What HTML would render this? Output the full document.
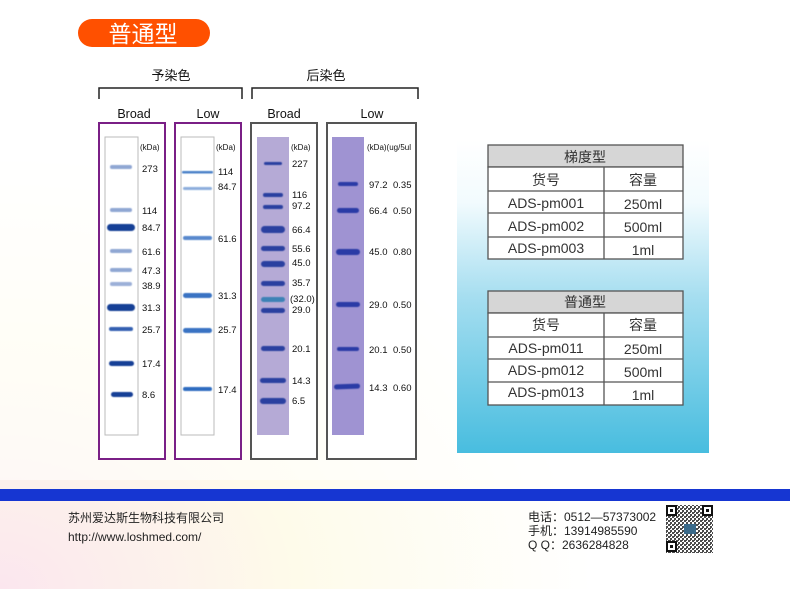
<!DOCTYPE html>
<html><head><meta charset="utf-8"><style>
html,body{margin:0;padding:0;width:790px;height:589px;overflow:hidden;background:#fff}
svg text{font-family:"Liberation Sans","Noto Sans CJK SC",sans-serif}
</style></head><body>
<svg width="790" height="589" viewBox="0 0 790 589" xmlns="http://www.w3.org/2000/svg">
<defs>
<radialGradient id="bgp" cx="0" cy="1" r="0.75">
<stop offset="0" stop-color="#fbe6ee"/><stop offset="0.5" stop-color="#fefbea"/><stop offset="1" stop-color="#ffffff"/>
</radialGradient>
<linearGradient id="blue" x1="0" y1="0" x2="0" y2="1">
<stop offset="0" stop-color="#ffffff"/><stop offset="0.2" stop-color="#f2fbfe"/><stop offset="0.5" stop-color="#a6def0"/><stop offset="1" stop-color="#48bddf"/>
</linearGradient>
<pattern id="qr" width="4" height="4" patternUnits="userSpaceOnUse">
<rect width="2" height="2" fill="#111"/><rect x="2" y="2" width="2" height="2" fill="#111"/><rect x="2" y="0" width="1" height="1" fill="#111"/>
</pattern>
<filter id="bl"><feGaussianBlur stdDeviation="0.6"/></filter>
</defs>
<rect width="790" height="589" fill="url(#bgp)"/>
<rect x="0" y="0" width="790" height="480" fill="#fff" opacity="0.55"/>

<rect x="78" y="19" width="132" height="28" rx="14" fill="#ff5000"/>
<text x="143" y="42" font-size="23" fill="#fff" text-anchor="middle">普通型</text>

<text x="171" y="80" font-size="13" text-anchor="middle" fill="#111">予染色</text>
<text x="326" y="80" font-size="13" text-anchor="middle" fill="#111">后染色</text>
<path d="M99 99 V88 H242 V99" fill="none" stroke="#222" stroke-width="1.5"/>
<path d="M252 99 V88 H418 V99" fill="none" stroke="#222" stroke-width="1.5"/>
<g font-size="12.5" fill="#111" text-anchor="middle">
<text x="134" y="118">Broad</text><text x="208" y="118">Low</text>
<text x="284" y="118">Broad</text><text x="372" y="118">Low</text>
</g>

<rect x="99" y="123" width="66" height="336" fill="#fff" stroke="#7a1f86" stroke-width="2"/>
<rect x="175" y="123" width="66" height="336" fill="#fff" stroke="#7a1f86" stroke-width="2"/>
<rect x="251" y="123" width="66" height="336" fill="#fff" stroke="#555" stroke-width="2"/>
<rect x="327" y="123" width="89" height="336" fill="#fff" stroke="#555" stroke-width="2"/>

<rect x="105" y="137" width="33" height="298" fill="#fff" stroke="#bbb"/>
<rect x="181" y="137" width="33" height="298" fill="#fff" stroke="#bbb"/>
<rect x="257" y="137" width="32" height="298" fill="#b5aad6"/>
<rect x="332" y="137" width="32" height="298" fill="#9f93d2"/>

<g fill="#1f4fa8" filter="url(#bl)">
<rect x="110" y="165" width="22" height="4" rx="2" opacity="0.5"/>
<rect x="110" y="208" width="22" height="4" rx="2" opacity="0.5"/>
<rect x="107" y="224" width="28" height="7" rx="3.5" fill="#173f96"/>
<rect x="110" y="249" width="22" height="4" rx="2" opacity="0.5"/>
<rect x="110" y="268" width="22" height="4" rx="2" opacity="0.5"/>
<rect x="110" y="282" width="22" height="4" rx="2" opacity="0.45"/>
<rect x="107" y="304" width="28" height="7" rx="3.5" fill="#173f96"/>
<rect x="109" y="327" width="24" height="4" rx="2" opacity="0.9"/>
<rect x="109" y="361" width="25" height="5" rx="2.5" fill="#173f96"/>
<rect x="111" y="392" width="22" height="5" rx="2.5" fill="#173f96"/>
</g>
<g font-size="9.5" fill="#111">
<text x="140" y="150" font-size="8">(kDa)</text>
<text x="142" y="172">273</text><text x="142" y="214">114</text><text x="142" y="231">84.7</text>
<text x="142" y="255">61.6</text><text x="142" y="274">47.3</text><text x="142" y="289">38.9</text>
<text x="142" y="311">31.3</text><text x="142" y="333">25.7</text><text x="142" y="367">17.4</text>
<text x="142" y="398">8.6</text>
</g>

<g fill="#2e6cc0" filter="url(#bl)">
<rect x="182" y="171" width="31" height="2.5" rx="1" opacity="0.85"/>
<rect x="183" y="187" width="29" height="3" rx="1.5" opacity="0.55"/>
<rect x="183" y="236" width="29" height="4" rx="2" opacity="0.8"/>
<rect x="183" y="293" width="29" height="5" rx="2.5" opacity="0.95"/>
<rect x="183" y="328" width="29" height="5" rx="2.5" opacity="0.95"/>
<rect x="183" y="387" width="29" height="4" rx="2"/>
</g>
<g font-size="9.5" fill="#111">
<text x="216" y="150" font-size="8">(kDa)</text>
<text x="218" y="175">114</text><text x="218" y="190">84.7</text><text x="218" y="242">61.6</text>
<text x="218" y="299">31.3</text><text x="218" y="333">25.7</text><text x="218" y="393">17.4</text>
</g>

<g fill="#2a3fa0" filter="url(#bl)">
<rect x="264" y="162" width="18" height="3" rx="1.5"/>
<rect x="263" y="193" width="20" height="4" rx="2"/>
<rect x="263" y="205" width="20" height="4" rx="2"/>
<rect x="261" y="226" width="24" height="7" rx="3.5"/>
<rect x="261" y="246" width="24" height="5" rx="2.5"/>
<rect x="261" y="261" width="24" height="6" rx="3"/>
<rect x="261" y="281" width="24" height="5" rx="2.5"/>
<rect x="261" y="297" width="24" height="5" rx="2.5" fill="#3d82b6"/>
<rect x="261" y="308" width="24" height="5" rx="2.5"/>
<rect x="261" y="346" width="24" height="5" rx="2.5"/>
<rect x="260" y="378" width="26" height="5" rx="2.5"/>
<rect x="260" y="398" width="26" height="6" rx="3"/>
</g>
<g font-size="9.5" fill="#111">
<text x="291" y="150" font-size="8">(kDa)</text>
<text x="292" y="167">227</text><text x="292" y="198">116</text><text x="292" y="209">97.2</text>
<text x="292" y="233">66.4</text><text x="292" y="252">55.6</text><text x="292" y="266">45.0</text>
<text x="292" y="286">35.7</text><text x="290" y="302">(32.0)</text><text x="292" y="313">29.0</text>
<text x="292" y="352">20.1</text><text x="292" y="384">14.3</text><text x="292" y="404">6.5</text>
</g>

<g fill="#2c3aa6" filter="url(#bl)">
<rect x="338" y="182" width="20" height="4" rx="2"/>
<rect x="337" y="208" width="22" height="5" rx="2.5"/>
<rect x="336" y="249" width="24" height="6" rx="3"/>
<rect x="336" y="302" width="24" height="5" rx="2.5"/>
<rect x="337" y="347" width="22" height="4" rx="2"/>
<rect x="334" y="384" width="26" height="5" rx="2.5" transform="rotate(-2 347 386)"/>
</g>
<g font-size="9.5" fill="#111">
<text x="367" y="150" font-size="8">(kDa)(ug/5ul</text>
<text x="369" y="188">97.2</text><text x="393" y="188">0.35</text>
<text x="369" y="214">66.4</text><text x="393" y="214">0.50</text>
<text x="369" y="255">45.0</text><text x="393" y="255">0.80</text>
<text x="369" y="308">29.0</text><text x="393" y="308">0.50</text>
<text x="369" y="353">20.1</text><text x="393" y="353">0.50</text>
<text x="369" y="391">14.3</text><text x="393" y="391">0.60</text>
</g>

<rect x="457" y="140" width="252" height="313" fill="url(#blue)"/>

<g stroke="#555" stroke-width="1.3">
<rect x="488" y="145" width="195" height="22" fill="#d6d6d6"/>
<rect x="488" y="167" width="195" height="92" fill="#fff"/>
<line x1="488" y1="191" x2="683" y2="191"/><line x1="488" y1="213" x2="683" y2="213"/><line x1="488" y1="237" x2="683" y2="237"/>
<line x1="604" y1="167" x2="604" y2="259"/>
<rect x="488" y="291" width="195" height="22" fill="#d6d6d6"/>
<rect x="488" y="313" width="195" height="92" fill="#fff"/>
<line x1="488" y1="337" x2="683" y2="337"/><line x1="488" y1="359" x2="683" y2="359"/><line x1="488" y1="382" x2="683" y2="382"/>
<line x1="604" y1="313" x2="604" y2="405"/>
</g>
<g font-size="14" fill="#333" text-anchor="middle">
<text x="585" y="162">梯度型</text>
<text x="546" y="185">货号</text><text x="643" y="185">容量</text>
<text x="546" y="208">ADS-pm001</text><text x="643" y="209">250ml</text>
<text x="546" y="231">ADS-pm002</text><text x="643" y="232">500ml</text>
<text x="546" y="253">ADS-pm003</text><text x="643" y="255">1ml</text>
<text x="585" y="307">普通型</text>
<text x="546" y="330">货号</text><text x="643" y="330">容量</text>
<text x="546" y="353">ADS-pm011</text><text x="643" y="354">250ml</text>
<text x="546" y="375">ADS-pm012</text><text x="643" y="377">500ml</text>
<text x="546" y="397">ADS-pm013</text><text x="643" y="400">1ml</text>
</g>

<rect x="0" y="489" width="790" height="12" fill="#1636d2"/>

<g font-size="12" fill="#222">
<text x="68" y="522">苏州爱达斯生物科技有限公司</text>
<text x="68" y="541">http://www.loshmed.com/</text>
<text x="528" y="521">电话：0512—57373002</text>
<text x="528" y="535">手机：13914985590</text>
<text x="528" y="549">Q Q：2636284828</text>
</g>
<rect x="666" y="505" width="47" height="48" fill="#fff"/>
<rect x="666" y="505" width="47" height="48" fill="url(#qr)" opacity="0.75"/>
<g fill="none" stroke="#111" stroke-width="2">
<rect x="667" y="506" width="9" height="9" fill="#fff"/><rect x="703" y="506" width="9" height="9" fill="#fff"/><rect x="667" y="542" width="9" height="9" fill="#fff"/>
</g>
<g fill="#111"><rect x="670" y="509" width="3" height="3"/><rect x="706" y="509" width="3" height="3"/><rect x="670" y="545" width="3" height="3"/></g>
<rect x="684" y="524" width="12" height="10" fill="#3a6a8a"/>
</svg>
</body></html>
